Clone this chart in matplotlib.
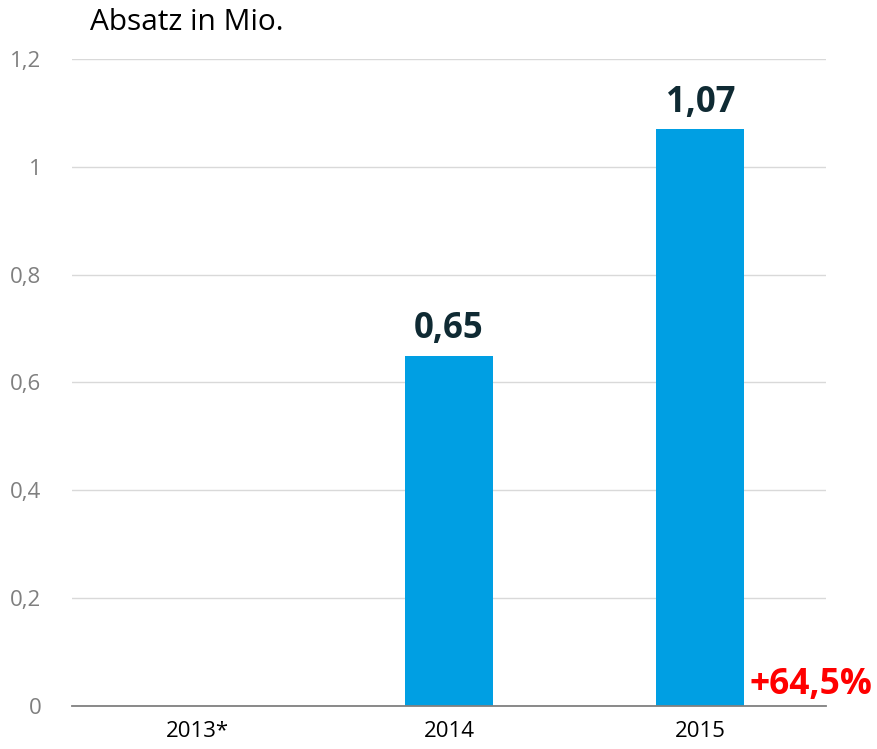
import matplotlib
matplotlib.use("Agg")
import matplotlib.pyplot as plt
import numpy as np

categories = ["2013*", "2014", "2015"]
values = [np.nan, 0.65, 1.07]
value_labels = ["", "0,65", "1,07"]
yticks = [0, 0.2, 0.4, 0.6, 0.8, 1.0, 1.2]
ytick_labels = ["0", "0,2", "0,4", "0,6", "0,8", "1", "1,2"]
growth_label = "+64,5%"

plt.rcParams['font.family'] = ['Open Sans', 'DejaVu Sans']

fig = plt.figure(figsize=(8.78, 7.49), dpi=100)
ax = fig.add_axes([72/878, 1-706/749, (826-72)/878, (706-59)/749])

x = np.arange(len(categories))
ax.bar(x, values, width=0.35, color='#009FE3', zorder=3)

ax.set_xlim(-0.5, 2.5)
ax.set_ylim(0, 1.2)
ax.set_yticks(yticks)
ax.set_yticklabels(ytick_labels, fontsize=16, color='#7F7F7F')
ax.set_xticks(x)
ax.set_xticklabels(categories, fontsize=16, color='#000000')
ax.tick_params(axis='both', length=0)
ax.tick_params(axis='y', pad=22)
ax.tick_params(axis='x', pad=11)
ax.yaxis.grid(True, color='#D9D9D9', linewidth=1, zorder=0)
for s in ['top', 'right', 'left']:
    ax.spines[s].set_visible(False)
ax.spines['bottom'].set_color('#808080')
ax.spines['bottom'].set_linewidth(1.3)
ax.spines['bottom'].set_zorder(4)

for xi, v, lab in zip(x, values, value_labels):
    if lab and not np.isnan(v):
        ax.annotate(lab, (xi, v), xytext=(0, 6), textcoords='offset points',
                    ha='center', va='bottom', fontsize=25, fontweight='bold',
                    color='#0F2A33')

ax.annotate(growth_label, (2 + 0.175, 0), xytext=(4, 2), textcoords='offset points',
            ha='left', va='bottom', fontsize=25.5, fontweight='bold', color='#FF0000',
            annotation_clip=False)

fig.text(90/878, 1-22/749, "Absatz in Mio.", fontsize=21.5, color='#000000',
         ha='left', va='center')

fig.savefig("out.png", dpi=100)
